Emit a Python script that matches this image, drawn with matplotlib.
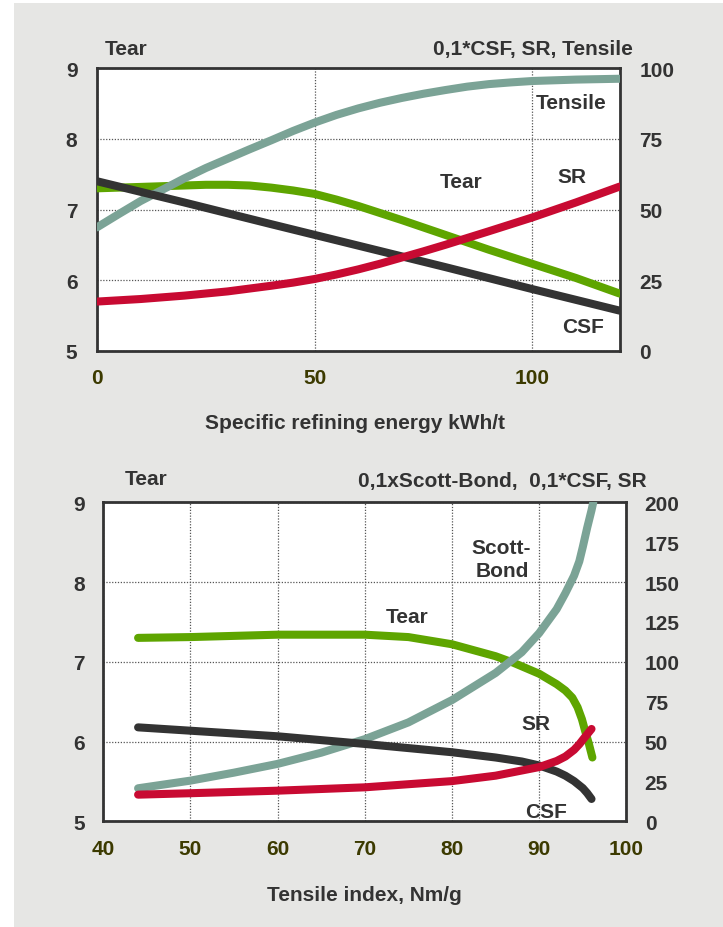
import matplotlib
matplotlib.use('Agg')
import matplotlib.pyplot as plt
from matplotlib.patches import Rectangle

plt.rcParams['font.family'] = ['Liberation Sans', 'DejaVu Sans']
plt.rcParams['font.weight'] = 'bold'
plt.rcParams['font.size'] = 15

# ---------------- data: top chart (vs specific refining energy) ----------------
tens_x = [0, 5, 10, 15, 20, 25, 30, 35, 40, 45, 50, 55, 60, 65, 70, 75, 80, 85, 90, 95, 100, 110, 120]
tensile_top = [43.7, 48.4, 53.0, 57.0, 61.0, 64.7, 68.0, 71.3, 74.5, 77.8, 80.8, 83.5, 85.8, 87.8,
               89.5, 91.0, 92.3, 93.5, 94.4, 95.0, 95.5, 96.0, 96.3]
tear_x_top = [0, 10, 20, 25, 30, 35, 40, 45, 50, 55, 60, 70, 80, 90, 100, 110, 120]
tear_top = [7.30, 7.32, 7.34, 7.35, 7.35, 7.34, 7.31, 7.27, 7.22, 7.14, 7.05, 6.85, 6.64, 6.43,
            6.23, 6.03, 5.81]
sr_x_top = [0, 10, 20, 30, 40, 45, 50, 55, 60, 65, 70, 75, 80, 90, 100, 110, 120]
sr_top = [17.4, 18.3, 19.5, 21.0, 23.0, 24.1, 25.4, 27.0, 28.8, 30.8, 33.0, 35.2, 37.5, 42.3,
          47.2, 52.5, 58.1]
csf_x_top = [0, 20, 40, 60, 80, 100, 120]
csf_top = [60.0, 52.5, 44.8, 37.2, 29.6, 21.8, 14.2]

top_xticks = [0, 50, 100]
top_left_ticks = [5, 6, 7, 8, 9]
top_right_ticks = [0, 25, 50, 75, 100]

# ---------------- data: bottom chart (vs tensile index) ----------------
sb_x = [44, 50, 55, 60, 65, 70, 75, 80, 85, 88, 90, 92, 93, 94, 94.6, 95, 95.5, 96, 96.2]
scott_bond = [20.7, 25.5, 30.5, 36.0, 43.0, 51.5, 62.0, 76.0, 93.0, 106.0, 118.0, 133.0, 143.0,
              154.0, 163.0, 172.0, 184.0, 195.0, 200.0]
tear_x = [44, 50, 60, 70, 75, 80, 85, 87, 90, 92, 93, 93.8, 94.4, 94.9, 95.3, 95.7, 96.1]
tear_bot = [7.30, 7.31, 7.34, 7.34, 7.31, 7.22, 7.07, 6.99, 6.85, 6.72, 6.64, 6.55, 6.43, 6.28,
            6.12, 5.97, 5.80]
sr_x = [44, 50, 60, 70, 80, 85, 90, 92, 93, 94, 94.6, 95.1, 95.6, 96]
sr_bot = [16.7, 17.6, 19.2, 21.3, 25.2, 28.6, 34.0, 37.8, 40.6, 44.8, 48.3, 51.8, 55.2, 57.9]
csf_x = [44, 50, 60, 70, 80, 85, 88, 90, 92, 93, 94, 95, 95.5, 96]
csf_bot = [58.9, 56.8, 53.3, 48.5, 43.3, 40.0, 37.5, 35.0, 31.2, 28.6, 25.2, 20.8, 17.7, 14.0]

bot_xticks = [40, 50, 60, 70, 80, 90, 100]
bot_left_ticks = [5, 6, 7, 8, 9]
bot_right_ticks = [0, 25, 50, 75, 100, 125, 150, 175, 200]

# ---------------- styles ----------------
C_TENS = '#7ba396'
C_TEAR = '#5ea500'
C_SR = '#c80a32'
C_CSF = '#333333'
C_TXT = '#333333'
C_XT = '#3c3a00'
LW = 5.8

W, H = 723, 928
fig = plt.figure(figsize=(W / 100, H / 100), dpi=100)
fig.patch.set_facecolor('white')
fig.patches.append(Rectangle((14 / W, 0), 1, (H - 4) / H, transform=fig.transFigure,
                             facecolor='#e6e6e4', edgecolor='none', zorder=-10))


def px_axes(l, r, t, b):
    return fig.add_axes([l / W, (H - b) / H, (r - l) / W, (b - t) / H])


def style(host, twin, xlim, xt, ylim_l, yt_l, ylim_r, yt_r, ypad, xpad):
    host.set_xlim(*xlim)
    host.set_ylim(*ylim_l)
    twin.set_ylim(*ylim_r)
    host.set_xticks(xt)
    host.set_yticks(yt_l)
    twin.set_yticks(yt_r)
    host.set_facecolor('white')
    twin.patch.set_visible(False)
    for s in host.spines.values():
        s.set_linewidth(2.0)
        s.set_color('#333333')
    for s in twin.spines.values():
        s.set_visible(False)
    host.tick_params(axis='x', length=0, pad=xpad, colors=C_XT, labelsize=15)
    host.tick_params(axis='y', length=0, pad=ypad, colors=C_TXT, labelsize=15)
    twin.tick_params(axis='y', length=0, pad=ypad, colors=C_TXT, labelsize=15)
    host.grid(True, linestyle=(0, (1, 1.3)), color='#555555', linewidth=0.9)
    host.set_axisbelow(True)


def line(ax, x, y, c, z):
    ax.plot(x, y, color=c, lw=LW, solid_capstyle='round', solid_joinstyle='round', zorder=z)


# ---------------- top chart ----------------
ax1 = px_axes(97.1, 619.5, 69.3, 351.7)
ax1r = ax1.twinx()
style(ax1, ax1r, (0, 120), top_xticks, (5, 9), top_left_ticks, (0, 100), top_right_ticks, 14.2, 12.8)

line(ax1, tear_x_top, tear_top, C_TEAR, 3)
line(ax1r, tens_x, tensile_top, C_TENS, 2)
line(ax1r, csf_x_top, csf_top, C_CSF, 3)
line(ax1r, sr_x_top, sr_top, C_SR, 4)

ax1.text(108.8, 8.433, 'Tensile', ha='center', va='baseline', color=C_TXT, zorder=6)
ax1.text(83.6, 7.323, 'Tear', ha='center', va='baseline', color=C_TXT, zorder=6)
ax1.text(109.1, 7.385, 'SR', ha='center', va='baseline', color=C_TXT, zorder=6)
ax1.text(111.6, 5.269, 'CSF', ha='center', va='baseline', color=C_TXT, zorder=6)

ax1.text(0.0151, 1.0506, 'Tear', transform=ax1.transAxes, ha='left', va='baseline', color=C_TXT)
ax1.text(1.0259, 1.0506, '0,1*CSF, SR, Tensile', transform=ax1.transAxes, ha='right',
         va='baseline', color=C_TXT)
ax1.set_xlabel('Specific refining energy kWh/t', color=C_TXT, fontsize=15, fontweight='bold')
ax1.xaxis.set_label_coords(0.494, -0.222)

# ---------------- bottom chart ----------------
ax2 = px_axes(103.2, 626.4, 503.3, 822.3)
ax2r = ax2.twinx()
style(ax2, ax2r, (40, 100), bot_xticks, (5, 9), bot_left_ticks, (0, 200), bot_right_ticks, 13.2, 12.6)

line(ax2, tear_x, tear_bot, C_TEAR, 3)
line(ax2r, sb_x, scott_bond, C_TENS, 2)
line(ax2r, csf_x, csf_bot, C_CSF, 3)
line(ax2r, sr_x, sr_bot, C_SR, 4)

ax2.text(85.6, 8.364, 'Scott-', ha='center', va='baseline', color=C_TXT, zorder=6)
ax2.text(85.73, 8.08, 'Bond', ha='center', va='baseline', color=C_TXT, zorder=6)
ax2.text(74.87, 7.495, 'Tear', ha='center', va='baseline', color=C_TXT, zorder=6)
ax2.text(89.58, 6.157, 'SR', ha='center', va='baseline', color=C_TXT, zorder=6)
ax2.text(90.78, 5.05, 'CSF', ha='center', va='baseline', color=C_TXT, zorder=6)

ax2.text(0.0417, 1.0574, 'Tear', transform=ax2.transAxes, ha='left', va='baseline', color=C_TXT)
ax2.text(1.0394, 1.0511, '0,1xScott-Bond,  0,1*CSF, SR', transform=ax2.transAxes, ha='right',
         va='baseline', color=C_TXT)
ax2.set_xlabel('Tensile index, Nm/g', color=C_TXT, fontsize=15, fontweight='bold')
ax2.xaxis.set_label_coords(0.5, -0.2)

fig.savefig('out.png', dpi=100)
